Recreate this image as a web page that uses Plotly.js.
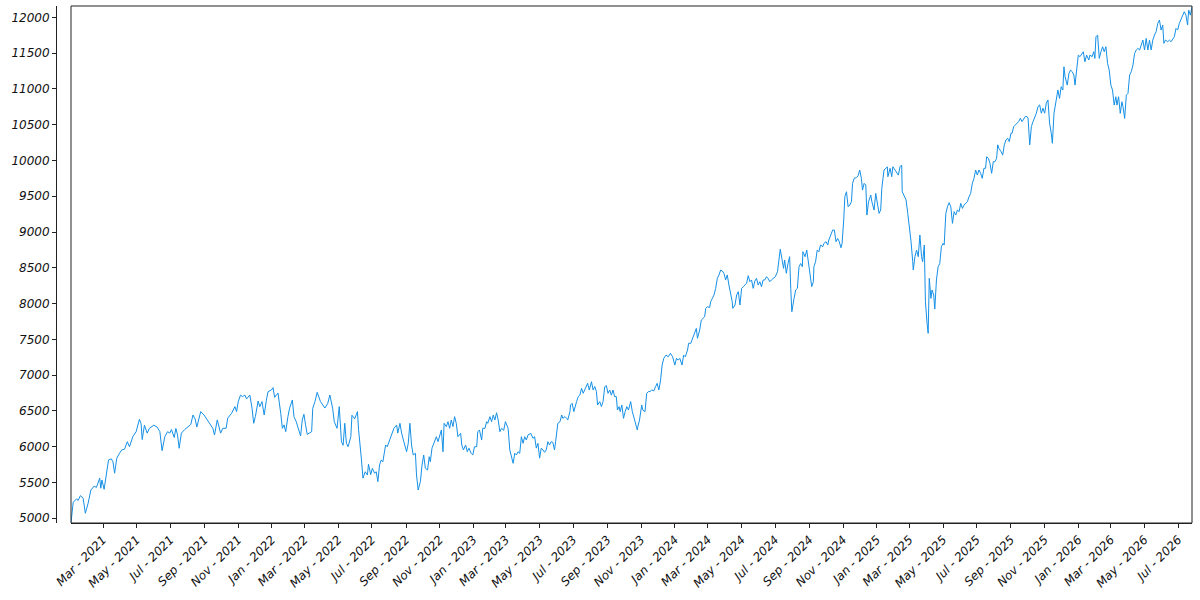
<!DOCTYPE html>
<html>
<head>
<meta charset="utf-8">
<script src="https://cdn.plot.ly/plotly-3.0.1.min.js"></script>
<style>html,body{margin:0;padding:0;background:#fff;}#chart{width:1200px;height:600px;}</style>
</head>
<body>
<div id="chart"></div>
<script>
// ---- data ----
const dates2021 = [
'2021-01-02','2021-01-06','2021-01-12','2021-01-15','2021-01-19','2021-01-24','2021-01-28','2021-02-02','2021-02-07','2021-02-13',
'2021-02-17','2021-02-23','2021-02-25','2021-02-27','2021-03-03','2021-03-07','2021-03-11','2021-03-16','2021-03-19','2021-03-22',
'2021-03-26','2021-03-31','2021-04-04','2021-04-09','2021-04-14','2021-04-18','2021-04-24','2021-04-30','2021-05-06','2021-05-09',
'2021-05-11','2021-05-15','2021-05-20','2021-05-24','2021-06-01','2021-06-07','2021-06-12','2021-06-16','2021-06-21','2021-06-26',
'2021-06-30','2021-07-03','2021-07-08','2021-07-11','2021-07-14','2021-07-17','2021-07-21','2021-07-27','2021-08-01','2021-08-07',
'2021-08-11','2021-08-15','2021-08-18','2021-08-25','2021-08-31','2021-09-06','2021-09-12','2021-09-16','2021-09-19','2021-09-24',
'2021-09-30','2021-10-04','2021-10-10','2021-10-13','2021-10-20','2021-10-26','2021-10-29','2021-11-01','2021-11-05','2021-11-09',
'2021-11-13','2021-11-16','2021-11-22','2021-11-26','2021-11-29','2021-12-02','2021-12-07','2021-12-10','2021-12-14','2021-12-18',
'2021-12-22','2021-12-25','2021-12-31'];
const values2021 = [
4935,5224,5270,5250,5316,5280,5070,5210,5395,5450,
5430,5560,5420,5535,5405,5590,5815,5830,5790,5630,
5840,5910,5955,5965,6070,6000,6140,6210,6383,6320,
6100,6300,6190,6257,6300,6275,6210,5945,6140,6210,
6190,6240,6130,6255,6165,5978,6190,6240,6275,6310,
6443,6385,6275,6490,6443,6375,6310,6257,6164,6375,
6190,6257,6257,6400,6467,6560,6490,6630,6720,6700,
6722,6667,6722,6537,6327,6420,6638,6560,6630,6443,
6650,6769,6792];

const dates2022 = [
'2022-01-03','2022-01-06','2022-01-12','2022-01-17','2022-01-20','2022-01-23','2022-01-26','2022-01-30','2022-02-02','2022-02-07',
'2022-02-10','2022-02-14','2022-02-22','2022-02-25','2022-02-28','2022-03-03','2022-03-06','2022-03-14','2022-03-16','2022-03-20',
'2022-03-24','2022-03-30','2022-04-07','2022-04-12','2022-04-16','2022-04-21','2022-04-24','2022-04-29','2022-05-03','2022-05-07',
'2022-05-10','2022-05-13','2022-05-16','2022-05-19','2022-05-24','2022-05-26','2022-05-31','2022-06-05','2022-06-07','2022-06-12',
'2022-06-15','2022-06-19','2022-06-23','2022-06-25','2022-06-29','2022-07-02','2022-07-06','2022-07-09','2022-07-12','2022-07-15',
'2022-07-18','2022-07-21','2022-07-26','2022-07-29','2022-08-02','2022-08-05','2022-08-10','2022-08-15','2022-08-17','2022-08-21',
'2022-08-24','2022-08-28','2022-09-02','2022-09-05','2022-09-08','2022-09-11','2022-09-14','2022-09-18','2022-09-20','2022-09-23',
'2022-09-27','2022-09-30','2022-10-03','2022-10-06','2022-10-10','2022-10-13','2022-10-15','2022-10-18','2022-10-23',
'2022-10-26','2022-10-29','2022-11-01','2022-11-04','2022-11-07','2022-11-09','2022-11-13','2022-11-16','2022-11-19','2022-11-22',
'2022-11-25','2022-11-28','2022-12-01','2022-12-04','2022-12-09','2022-12-11','2022-12-14','2022-12-18','2022-12-21','2022-12-24',
'2022-12-28','2022-12-31'];
const values2022 = [
6825,6690,6750,6467,6257,6305,6210,6420,6537,6653,
6420,6350,6150,6373,6453,6305,6173,6210,6537,6630,
6760,6630,6540,6600,6722,6537,6350,6257,6560,6070,
6020,6327,6047,6000,6140,6440,6390,6490,6240,5840,
5560,5650,5605,5755,5610,5698,5630,5650,5512,5745,
5815,5790,6024,6000,6080,6164,6257,6303,6190,6327,
6190,6070,5930,6047,6327,6024,5884,5908,5605,5395,
5512,5745,5884,5700,5675,5860,5790,5980,6070,
6140,6070,6164,6234,5930,6327,6280,6350,6257,6373,
6280,6420,6327,6140,6187,6024,5955,6024,5930,5980,
5908,5885];

const dates2023 = [
'2023-01-03','2023-01-07','2023-01-09','2023-01-12','2023-01-16','2023-01-18','2023-01-22','2023-01-25','2023-01-27','2023-01-31',
'2023-02-03','2023-02-06','2023-02-09','2023-02-12','2023-02-15','2023-02-18','2023-02-21','2023-02-25','2023-02-28','2023-03-05',
'2023-03-08','2023-03-11','2023-03-14','2023-03-17','2023-03-20','2023-03-23','2023-03-26','2023-03-29','2023-04-01','2023-04-04',
'2023-04-07','2023-04-10','2023-04-15','2023-04-19','2023-04-22','2023-04-25','2023-04-28','2023-05-01','2023-05-04','2023-05-07',
'2023-05-10','2023-05-13','2023-05-16','2023-05-19','2023-05-22','2023-05-25','2023-05-28','2023-05-30','2023-06-03','2023-06-07',
'2023-06-10','2023-06-12','2023-06-16','2023-06-19','2023-06-21','2023-06-25','2023-06-26','2023-06-29','2023-07-02','2023-07-07',
'2023-07-10','2023-07-13','2023-07-16','2023-07-19','2023-07-22','2023-07-27','2023-07-30','2023-08-03','2023-08-06','2023-08-09',
'2023-08-12','2023-08-14','2023-08-18','2023-08-21','2023-08-24','2023-08-27','2023-08-30','2023-09-02','2023-09-05','2023-09-08',
'2023-09-11','2023-09-14','2023-09-17','2023-09-19','2023-09-22','2023-09-24','2023-09-27','2023-09-30','2023-10-03','2023-10-06',
'2023-10-09','2023-10-13','2023-10-16','2023-10-19','2023-10-22','2023-10-25','2023-10-26','2023-10-29','2023-11-02','2023-11-04',
'2023-11-08','2023-11-11','2023-11-14','2023-11-17','2023-11-20','2023-11-24','2023-11-27','2023-11-30','2023-12-03','2023-12-06',
'2023-12-09','2023-12-12','2023-12-16','2023-12-20','2023-12-24','2023-12-28'];
const values2023 = [
6000,6000,6210,6234,6093,6257,6257,6350,6327,6420,
6350,6443,6373,6475,6373,6210,6257,6230,6350,6257,
5955,5860,5768,5908,5885,5930,5908,6140,6047,6140,
6093,6164,6187,6117,6140,5980,6047,5840,5980,5955,
5922,5955,6070,6024,6070,6060,5955,6070,6327,6350,
6443,6397,6420,6397,6373,6490,6583,6606,6490,6630,
6700,6722,6816,6746,6792,6886,6792,6908,6792,6840,
6770,6583,6630,6560,6630,6838,6853,6746,6792,6720,
6792,6700,6700,6513,6560,6490,6583,6397,6490,6560,
6513,6630,6490,6397,6327,6234,6280,6373,6583,6513,
6490,6746,6770,6770,6792,6780,6838,6885,6792,6918,
7141,7235,7280,7257,7305,7257];

const dates2024 = [
'2024-01-01','2024-01-04','2024-01-07','2024-01-10','2024-01-14','2024-01-17','2024-01-20','2024-01-24','2024-01-26','2024-01-30',
'2024-02-01','2024-02-04','2024-02-06','2024-02-09','2024-02-11','2024-02-15','2024-02-18','2024-02-21','2024-02-24','2024-02-26',
'2024-02-29','2024-03-04','2024-03-06','2024-03-09','2024-03-12','2024-03-15','2024-03-18','2024-03-21','2024-03-24','2024-03-27',
'2024-03-30','2024-04-02','2024-04-05','2024-04-08','2024-04-11','2024-04-14','2024-04-15','2024-04-19','2024-04-22','2024-04-25',
'2024-04-28','2024-05-01','2024-05-04','2024-05-07','2024-05-10','2024-05-13','2024-05-16','2024-05-19','2024-05-22','2024-05-25',
'2024-05-28','2024-05-31','2024-06-03','2024-06-06','2024-06-09','2024-06-12','2024-06-15','2024-06-18','2024-06-21','2024-06-24',
'2024-06-27','2024-07-01','2024-07-05','2024-07-07','2024-07-10','2024-07-13','2024-07-16','2024-07-18','2024-07-21','2024-07-24',
'2024-07-27','2024-07-29','2024-07-31','2024-08-04','2024-08-07','2024-08-10','2024-08-13','2024-08-16','2024-08-19','2024-08-20',
'2024-08-24','2024-08-27','2024-08-29','2024-09-02','2024-09-05','2024-09-08','2024-09-09','2024-09-12','2024-09-15','2024-09-18',
'2024-09-21','2024-09-25','2024-09-27','2024-10-01','2024-10-04','2024-10-06','2024-10-10','2024-10-13','2024-10-16','2024-10-19',
'2024-10-22','2024-10-25','2024-10-28','2024-10-30','2024-11-02','2024-11-04','2024-11-07','2024-11-10','2024-11-13','2024-11-16',
'2024-11-18','2024-11-21','2024-11-25','2024-11-28','2024-12-01','2024-12-04','2024-12-06','2024-12-09','2024-12-12','2024-12-14',
'2024-12-17','2024-12-21','2024-12-23','2024-12-27','2024-12-30'];
const values2024 = [
7141,7235,7210,7235,7141,7280,7257,7350,7445,7445,
7490,7560,7607,7653,7515,7630,7770,7793,7816,7933,
7956,7945,8026,8073,8120,8213,8353,8400,8469,8455,
8423,8330,8400,8260,8143,8027,7933,7980,8120,8166,
7980,8213,8236,8260,8283,8390,8306,8330,8213,8315,
8353,8260,8306,8236,8330,8330,8375,8353,8306,8330,
8353,8375,8445,8585,8760,8630,8492,8608,8423,8560,
8655,8213,7886,8073,8190,8213,8515,8560,8515,8725,
8655,8748,8630,8353,8237,8306,8515,8585,8748,8725,
8818,8795,8840,8864,8818,8888,8958,9028,9028,8864,
8910,8864,8780,8840,9168,9493,9563,9353,9377,9423,
9680,9750,9760,9785,9866,9750,9586,9680,9656,9237,
9423,9517,9423,9307,9540];

const dates2025 = [
'2025-01-02','2025-01-05','2025-01-08','2025-01-10','2025-01-14','2025-01-17','2025-01-20','2025-01-21','2025-01-25','2025-01-28',
'2025-01-30','2025-02-03','2025-02-06','2025-02-09','2025-02-12','2025-02-15','2025-02-16','2025-02-19','2025-02-23','2025-02-26',
'2025-02-28','2025-03-04','2025-03-07','2025-03-08','2025-03-11','2025-03-14','2025-03-17','2025-03-20','2025-03-23','2025-03-25',
'2025-03-28','2025-03-30','2025-04-02','2025-04-04','2025-04-06','2025-04-09','2025-04-11','2025-04-14','2025-04-16','2025-04-19',
'2025-04-22','2025-04-25','2025-04-28','2025-05-01','2025-05-03','2025-05-06','2025-05-09','2025-05-12','2025-05-15','2025-05-18',
'2025-05-21','2025-05-24','2025-05-27','2025-05-30','2025-06-02','2025-06-05','2025-06-08','2025-06-11','2025-06-14','2025-06-17',
'2025-06-20','2025-06-23','2025-06-26','2025-06-29','2025-07-02','2025-07-05','2025-07-08','2025-07-11','2025-07-14','2025-07-17',
'2025-07-19','2025-07-22','2025-07-25','2025-07-28','2025-07-31','2025-08-03','2025-08-06','2025-08-08','2025-08-10','2025-08-14',
'2025-08-17','2025-08-20','2025-08-23','2025-08-26','2025-08-29','2025-09-01','2025-09-03','2025-09-06','2025-09-09','2025-09-12',
'2025-09-15','2025-09-18','2025-09-21','2025-09-24','2025-09-27','2025-09-30','2025-10-02','2025-10-05','2025-10-08','2025-10-11',
'2025-10-14','2025-10-17','2025-10-20','2025-10-23','2025-10-26','2025-10-29','2025-11-01','2025-11-04','2025-11-07','2025-11-10',
'2025-11-13','2025-11-15','2025-11-18','2025-11-21','2025-11-25','2025-11-28','2025-12-01','2025-12-04','2025-12-06','2025-12-08',
'2025-12-12','2025-12-15','2025-12-18','2025-12-21','2025-12-24','2025-12-26','2025-12-29'];
const values2025 = [
9377,9260,9307,9610,9866,9890,9910,9773,9890,9773,
9912,9866,9820,9795,9912,9936,9563,9517,9447,9260,
9143,8864,8585,8469,8655,8748,8655,8958,8655,8585,
8818,8026,7724,7584,8353,8073,8190,8120,7924,8330,
8515,8560,8795,8841,8818,9260,9353,9410,9353,9121,
9284,9237,9307,9284,9400,9330,9377,9400,9423,9493,
9540,9680,9750,9866,9796,9866,9820,9750,9890,9890,
10052,10030,9960,9820,9983,9983,10030,10218,10170,10124,
10075,10218,10287,10310,10263,10380,10380,10473,10497,10520,
10543,10590,10543,10577,10614,10614,10590,10218,10473,10543,
10590,10660,10753,10776,10660,10730,10660,10800,10845,10520,
10380,10240,10660,10800,10983,10867,11030,10983,11309,11170,
11053,11216,11263,11240,11193,11053,11286];

const dates2026 = [
'2026-01-01','2026-01-04','2026-01-07','2026-01-10','2026-01-13','2026-01-16','2026-01-20','2026-01-22','2026-01-26','2026-01-29',
'2026-01-31','2026-02-02','2026-02-05','2026-02-08','2026-02-11','2026-02-14','2026-02-17','2026-02-20','2026-02-23','2026-02-26',
'2026-03-01','2026-03-04','2026-03-07','2026-03-10','2026-03-12','2026-03-15','2026-03-18','2026-03-21','2026-03-23','2026-03-26',
'2026-03-29','2026-04-01','2026-04-04','2026-04-07','2026-04-10','2026-04-13','2026-04-16','2026-04-19','2026-04-22','2026-04-25',
'2026-04-28','2026-05-01','2026-05-04','2026-05-07','2026-05-10','2026-05-13','2026-05-16','2026-05-19','2026-05-22','2026-05-25',
'2026-05-28','2026-05-31','2026-06-03','2026-06-05','2026-06-08','2026-06-12','2026-06-15','2026-06-18','2026-06-21','2026-06-24',
'2026-06-27','2026-06-30','2026-07-03','2026-07-06','2026-07-09','2026-07-12','2026-07-15','2026-07-18','2026-07-20','2026-07-23',
'2026-07-26'];
const values2026 = [
11472,11450,11496,11519,11379,11472,11403,11472,11450,11519,
11426,11728,11752,11426,11519,11589,11519,11589,11356,11263,
11053,10983,10774,10890,10774,10890,10658,10820,10750,10588,
10913,10937,11193,11240,11333,11496,11543,11566,11543,11612,
11682,11543,11705,11543,11682,11543,11682,11752,11798,11915,
11962,11822,11892,11636,11682,11659,11682,11659,11705,11728,
11845,11822,11915,11962,12008,12078,12030,11892,12101,12030,
12148];

const tickLabelFormat = '%b - %Y';

// ---- build chart ----
const dates = [].concat(dates2021, dates2022, dates2023, dates2024, dates2025, dates2026);
const values = [].concat(values2021, values2022, values2023, values2024, values2025, values2026);

const tickFont = {family: 'DejaVu Sans', size: 12, style: 'italic', color: '#111'};

const trace = {
  type: 'scatter',
  mode: 'lines',
  x: dates,
  y: values,
  line: {color: '#1590e6', width: 1},
  hoverinfo: 'x+y'
};

const layout = {
  width: 1200,
  height: 600,
  margin: {l: 56, r: 8, t: 6, b: 77, pad: 0},
  paper_bgcolor: '#ffffff',
  plot_bgcolor: '#ffffff',
  showlegend: false,
  xaxis: {
    type: 'date',
    domain: [15 / 1136, 1],
    range: [dates[0], dates[dates.length - 1]],
    tick0: '2021-01-01',
    dtick: 'M2',
    tickformat: tickLabelFormat,
    tickangle: -45,
    ticks: 'outside',
    ticklen: 4,
    tickcolor: '#222',
    showgrid: false,
    zeroline: false,
    showline: true,
    linecolor: '#222',
    linewidth: 1,
    tickfont: tickFont
  },
  yaxis: {
    anchor: 'free',
    position: 0,
    range: [4934, 12158],
    tick0: 5000,
    dtick: 500,
    tickformat: 'd',
    ticks: 'outside',
    ticklen: 4,
    tickcolor: '#222',
    showgrid: false,
    zeroline: false,
    showline: true,
    linecolor: '#222',
    linewidth: 1,
    tickfont: tickFont
  },
  shapes: [{
    type: 'rect', xref: 'x domain', yref: 'y domain',
    x0: 0, x1: 1, y0: 0, y1: 1,
    line: {color: '#222', width: 1}, layer: 'above'
  }]
};

Plotly.newPlot('chart', [trace], layout, {displayModeBar: false, staticPlot: true});
</script>
</body>
</html>
